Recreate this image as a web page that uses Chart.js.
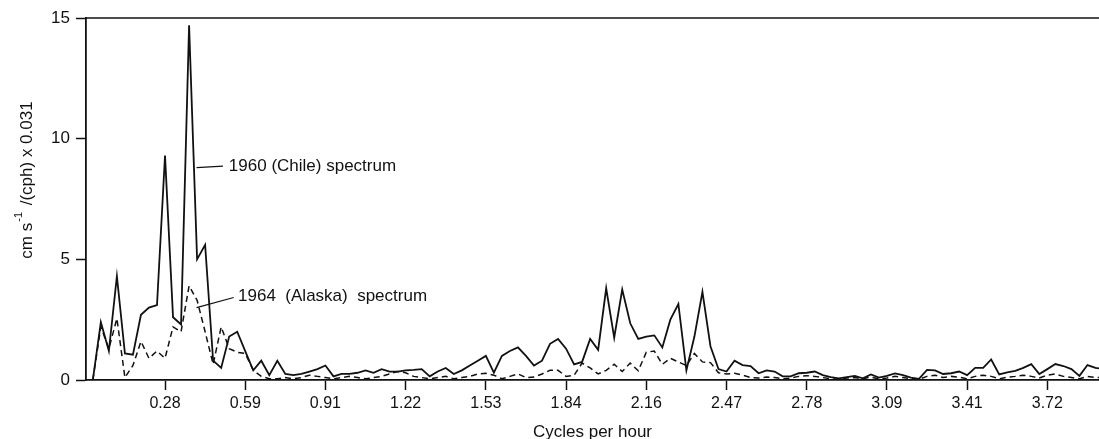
<!DOCTYPE html>
<html>
<head>
<meta charset="utf-8">
<script src="https://cdn.jsdelivr.net/npm/chart.js@4"></script>
<style>
  html, body { margin: 0; padding: 0; background: #fff; }
  #wrap { width: 1099px; height: 439px; }
</style>
</head>
<body>
<div id="wrap"><canvas id="spectrumChart" width="1099" height="439"></canvas></div>
<script>
// spectral estimates, one value per 1/32 cph band
const binWidth = 0.03125;

const chile1960 = [
  0, 2.4, 1.2, 4.3, 1.1, 1.05, 2.7, 3.0, 3.1, 9.3,
  2.6, 2.3, 14.7, 5.0, 5.6, 0.8, 0.5, 1.8, 2.0, 1.2,
  0.4, 0.8, 0.2, 0.8, 0.25, 0.2, 0.25, 0.35, 0.45, 0.6,
  0.15, 0.25, 0.25, 0.3, 0.4, 0.3, 0.45, 0.35, 0.35, 0.4,
  0.42, 0.45, 0.15, 0.35, 0.5, 0.25, 0.4, 0.6, 0.8, 1.0,
  0.3, 1.0, 1.2, 1.35, 1.0, 0.6, 0.8, 1.5, 1.7, 1.3,
  0.65, 0.75, 1.7, 1.25, 3.8, 1.75, 3.75, 2.35, 1.7, 1.8,
  1.85, 1.35, 2.5, 3.15, 0.4, 1.8, 3.65, 1.4, 0.45, 0.35,
  0.8, 0.62, 0.58, 0.28, 0.4, 0.35, 0.15, 0.15, 0.28, 0.3,
  0.35, 0.2, 0.12, 0.07, 0.12, 0.17, 0.07, 0.23, 0.1, 0.17,
  0.27, 0.2, 0.1, 0.05, 0.42, 0.4, 0.25, 0.28, 0.35, 0.2,
  0.5, 0.5, 0.85, 0.23, 0.32, 0.38, 0.5, 0.66, 0.25, 0.45,
  0.66, 0.58, 0.45, 0.17, 0.62, 0.5, 0.45
];

const alaska1964 = [
  0, 2.2, 1.3, 2.55, 0.1, 0.6, 1.6, 0.9, 1.2, 0.9,
  2.2, 2.0, 3.9, 3.3, 2.0, 0.65, 2.2, 1.3, 1.15, 1.1,
  0.4, 0.15, 0.05, 0.05, 0.1, 0.05, 0.1, 0.2, 0.15, 0.1,
  0.05, 0.1, 0.15, 0.1, 0.05, 0.1, 0.15, 0.25, 0.35, 0.3,
  0.15, 0.1, 0.05, 0.1, 0.15, 0.05, 0.1, 0.15, 0.25, 0.28,
  0.2, 0.05, 0.15, 0.25, 0.1, 0.12, 0.25, 0.4, 0.4, 0.15,
  0.2, 0.7, 0.5, 0.25, 0.4, 0.65, 0.35, 0.7, 0.38, 1.15,
  1.2, 0.65, 0.9, 0.75, 0.6, 1.1, 0.75, 0.72, 0.3, 0.25,
  0.28, 0.2, 0.1, 0.08, 0.12, 0.1, 0.05, 0.08, 0.15, 0.18,
  0.15, 0.1, 0.05, 0.03, 0.08, 0.1, 0.05, 0.12, 0.05, 0.08,
  0.15, 0.1, 0.05, 0.03, 0.15, 0.2, 0.1, 0.15, 0.12, 0.05,
  0.15, 0.2, 0.15, 0.05, 0.12, 0.15, 0.2, 0.15, 0.08, 0.2,
  0.25, 0.15, 0.1, 0.05, 0.15, 0.1, 0.1
];

const xTickValues = [0.28125, 0.59375, 0.90625, 1.21875, 1.53125, 1.84375,
                     2.15625, 2.46875, 2.78125, 3.09375, 3.40625, 3.71875];
const xTickLabels = ['0.28', '0.59', '0.91', '1.22', '1.53', '1.84',
                     '2.16', '2.47', '2.78', '3.09', '3.41', '3.72'];

const freqs = chile1960.map((v, i) => i * binWidth);

const FONT = '"Liberation Sans", Arial, Helvetica, sans-serif';
const INK = '#111';

// labels with leader lines, in data units
const callouts = [
  { text: '1960 (Chile) spectrum', from: [0.404, 8.8], to: [0.507, 8.86], at: [0.53, 8.86] },
  { text: '1964  (Alaska)  spectrum', from: [0.404, 3.0], to: [0.549, 3.42], at: [0.566, 3.48] }
];

const extrasPlugin = {
  id: 'extras',
  afterDraw(chart) {
    const { ctx, chartArea, scales } = chart;
    const xs = scales.x, ys = scales.y;
    ctx.save();
    // top frame line
    ctx.strokeStyle = INK;
    ctx.lineWidth = 1.5;
    ctx.beginPath();
    ctx.moveTo(chartArea.left, chartArea.top);
    ctx.lineTo(chartArea.right, chartArea.top);
    ctx.stroke();

    // callouts
    ctx.font = '17px ' + FONT;
    ctx.fillStyle = INK;
    ctx.textBaseline = 'middle';
    ctx.lineWidth = 1.2;
    callouts.forEach(c => {
      ctx.beginPath();
      ctx.moveTo(xs.getPixelForValue(c.from[0]), ys.getPixelForValue(c.from[1]));
      ctx.lineTo(xs.getPixelForValue(c.to[0]), ys.getPixelForValue(c.to[1]));
      ctx.stroke();
      ctx.fillText(c.text, xs.getPixelForValue(c.at[0]), ys.getPixelForValue(c.at[1]));
    });

    // y axis title with superscript
    ctx.translate(27, 180);
    ctx.rotate(-Math.PI / 2);
    const main1 = 'cm s', sup = '-1', main2 = ' /(cph) x 0.031';
    ctx.font = '17px ' + FONT;
    const w1 = ctx.measureText(main1).width;
    const w2 = ctx.measureText(main2).width;
    ctx.font = '11px ' + FONT;
    const ws = ctx.measureText(sup).width;
    let x = -(w1 + ws + 3 + w2) / 2;
    ctx.font = '17px ' + FONT;
    ctx.fillText(main1, x, 0);
    x += w1 + 1;
    ctx.font = '11px ' + FONT;
    ctx.fillText(sup, x, -8);
    x += ws + 2;
    ctx.font = '17px ' + FONT;
    ctx.fillText(main2, x, 0);
    ctx.restore();
  }
};

new Chart(document.getElementById('spectrumChart'), {
  type: 'line',
  data: {
    labels: freqs,
    datasets: [{
      label: '1960 (Chile) spectrum',
      data: chile1960,
      borderColor: INK,
      borderWidth: 1.8,
      pointRadius: 0,
      tension: 0,
      fill: false
    }, {
      label: '1964 (Alaska) spectrum',
      data: alaska1964,
      borderColor: INK,
      borderWidth: 1.5,
      borderDash: [6, 4],
      pointRadius: 0,
      tension: 0,
      fill: false
    }]
  },
  options: {
    responsive: false,
    animation: false,
    layout: { padding: { top: 18, right: 0, bottom: 0, left: 0 } },
    plugins: {
      legend: { display: false },
      tooltip: { enabled: false }
    },
    scales: {
      x: {
        type: 'linear',
        min: -0.0266,
        max: 3.92,
        afterBuildTicks: function(scale) {
          scale.ticks = xTickValues.map(v => ({ value: v }));
        },
        afterFit: function(scale) {
          scale.height = 59;
        },
        grid: {
          drawOnChartArea: false,
          drawTicks: true,
          tickLength: 10,
          tickColor: INK,
          tickWidth: 1.5
        },
        border: { display: true, color: INK, width: 1.8 },
        ticks: {
          color: INK,
          font: { family: FONT, size: 16 },
          padding: 4,
          maxRotation: 0,
          autoSkip: false,
          callback: function(value) {
            const i = xTickValues.indexOf(value);
            return i >= 0 ? xTickLabels[i] : '';
          }
        },
        title: {
          display: true,
          text: 'Cycles per hour',
          color: INK,
          font: { family: FONT, size: 17, lineHeight: 0.8 },
          padding: { top: 0, bottom: 0 }
        }
      },
      y: {
        min: 0,
        max: 15,
        afterFit: function(scale) {
          scale.width = 86;
        },
        grid: {
          drawOnChartArea: false,
          drawTicks: true,
          tickLength: 10,
          tickColor: INK,
          tickWidth: 1.5
        },
        border: { display: true, color: INK, width: 1.8 },
        ticks: {
          stepSize: 5,
          color: INK,
          font: { family: FONT, size: 17 },
          padding: 6
        }
      }
    }
  },
  plugins: [extrasPlugin]
});
</script>
</body>
</html>
